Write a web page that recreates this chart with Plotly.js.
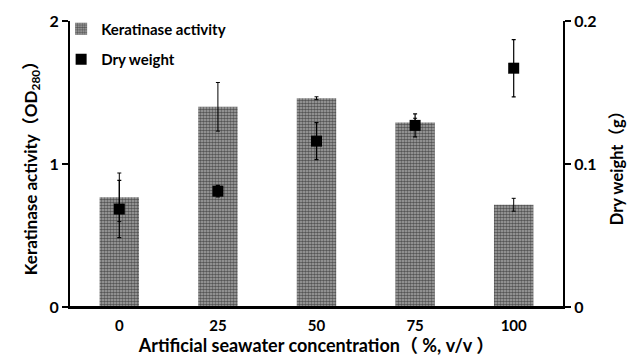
<!DOCTYPE html>
<html>
<head>
<meta charset="utf-8">
<script src="https://cdn.plot.ly/plotly-3.0.1.min.js"></script>
<style>html,body{margin:0;padding:0;background:#fff;}#chart{width:639px;height:358px;}</style>
</head>
<body>
<div id="chart"></div>
<script>
// Data
const categories = ["0", "25", "50", "75", "100"];
const keratinaseActivity = [0.767, 1.40, 1.46, 1.29, 0.715];
const keratinaseError = [0.17, 0.17, 0.01, 0.03, 0.045];
const dryWeight = [0.0685, 0.081, 0.116, 0.127, 0.167];
const dryWeightError = [0.02, 0.004, 0.013, 0.008, 0.02];
const leftTicks = [0, 1, 2];
const rightTicks = [0, 0.1, 0.2];
const rightTickText = ["0", "0.1", "0.2"];

const FONT = "Lato, Noto Sans CJK SC, sans-serif";

const barTrace = {
  type: "bar",
  name: "Keratinase activity",
  x: categories,
  y: keratinaseActivity,
  width: 0.4,
  legendgroup: "a",
  marker: {
    color: "#8f8f8f",
    line: {width: 0},
    pattern: {shape: ".", fgcolor: "#555", bgcolor: "#ababab", size: 3, solidity: 0.6, fillmode: "replace"}
  },
  error_y: {type: "data", array: keratinaseError, visible: true, color: "#000", thickness: 1, width: 2}
};

const dryTrace = {
  type: "scatter",
  mode: "markers",
  name: "Dry weight",
  x: categories,
  y: dryWeight,
  yaxis: "y2",
  legendgroup: "b",
  marker: {symbol: "square", size: 11, color: "#000"},
  error_y: {type: "data", array: dryWeightError, visible: true, color: "#000", thickness: 1.2, width: 2}
};

const layout = {
  width: 639,
  height: 358,
  margin: {l: 70, r: 76, t: 21, b: 51, autoexpand: false},
  paper_bgcolor: "#fff",
  plot_bgcolor: "#fff",
  font: {family: FONT, color: "#000", size: 15},
  showlegend: true,
  legend: {
    x: -0.018, y: 1.03, xanchor: "left", yanchor: "top",
    traceorder: "grouped", tracegroupgap: 8,
    font: {family: FONT, size: 15, weight: "bold", color: "#000"},
    bgcolor: "rgba(0,0,0,0)", itemwidth: 30
  },
  shapes: [
    {type: "line", xref: "paper", yref: "y", x0: -0.012, x1: 1.014, y0: 0, y1: 0, line: {color: "#000", width: 2}}
  ],
  xaxis: {
    type: "category",
    automargin: false,
    range: [-0.5, 4.5],
    showline: true, linecolor: "#000", linewidth: 2,
    ticks: "", showgrid: false, zeroline: false,
    tickfont: {family: FONT, size: 15, weight: "bold"},
    ticklabelstandoff: 4,
    title: {text: "Artificial seawater concentration（ %, v/v ）", font: {family: FONT, size: 18, weight: "bold"}, standoff: 4}
  },
  yaxis: {
    automargin: false,
    range: [0, 2],
    tickvals: leftTicks,
    ticktext: leftTicks.map(String),
    showline: true, linecolor: "#000", linewidth: 2,
    ticks: "outside", ticklen: 6, tickwidth: 1.5, tickcolor: "#000",
    showgrid: false, zeroline: false,
    tickfont: {family: FONT, size: 16, weight: "bold"},
    title: {text: "Keratinase activity（OD<sub>280</sub>）", font: {family: FONT, size: 17, weight: "bold"}, standoff: 8}
  },
  yaxis2: {
    automargin: false,
    overlaying: "y",
    side: "right",
    range: [0, 0.2],
    tickvals: rightTicks,
    ticktext: rightTickText,
    showline: true, linecolor: "#000", linewidth: 2,
    ticks: "outside", ticklen: 6, tickwidth: 1.5, tickcolor: "#000",
    showgrid: false, zeroline: false,
    tickfont: {family: FONT, size: 16, weight: "bold"},
    title: {text: "Dry weight（g）", font: {family: FONT, size: 16.5, weight: "bold"}, standoff: 16}
  }
};

Plotly.newPlot("chart", [barTrace, dryTrace], layout, {displayModeBar: false, staticPlot: true});
</script>
</body>
</html>
